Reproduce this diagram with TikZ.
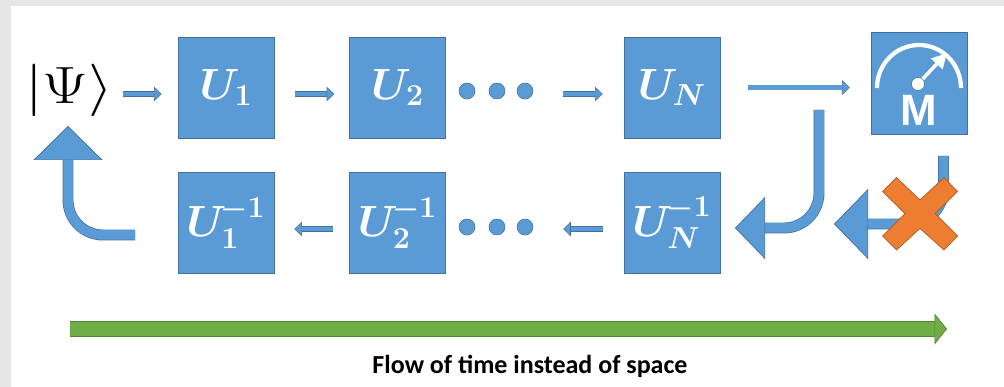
\documentclass[tikz,border=0pt]{standalone}
\usepackage{amsmath}
\usepackage{amssymb}
\usepackage{fontspec}
\newfontfamily\labelfont{Carlito}
\newfontfamily\meterfont{Liberation Sans}
\usepackage{tikz}
\usetikzlibrary{arrows.meta}
\definecolor{boxblue}{HTML}{5B9BD5}
\definecolor{edgeblue}{HTML}{41719C}
\definecolor{flowgreen}{HTML}{70AD47}
\definecolor{edgegreen}{HTML}{548235}
\definecolor{crossorange}{HTML}{ED7D31}
\definecolor{edgeorange}{HTML}{AE5A21}
\definecolor{pagegrey}{HTML}{E6E6E6}

\begin{document}
\begin{tikzpicture}[
  gate/.style={draw=edgeblue, line width=0.4pt, fill=boxblue, text=white, minimum width=1.92cm, minimum height=2.02cm, inner sep=0pt, font=\fontsize{27}{30}\selectfont},
  invgate/.style={gate, font=\fontsize{26}{30}\selectfont},
  meterbox/.style={gate, minimum height=2.04cm},
  dotmark/.style={circle, draw=edgeblue, line width=0.3pt, fill=boxblue, minimum size=0.32cm, inner sep=0pt},
  flow/.style={draw=edgeblue, double=boxblue, line width=0.3pt, double distance=0.09cm, -{Triangle[length=0.15cm, width=0.29cm, line width=0.3pt, fill=boxblue, color=edgeblue]}},
  bigflow/.style 2 args={draw=edgeblue, double=boxblue, line width=0.4pt, double distance=0.19cm, -{Triangle[length=#1, width=#2, line width=0.4pt, fill=boxblue, color=edgeblue]}},
  timeflow/.style={draw=edgegreen, double=flowgreen, line width=0.4pt, double distance=0.28cm, -{Triangle[length=0.25cm, width=0.62cm, line width=0.4pt, fill=flowgreen, color=edgegreen]}},
  needle/.style={draw=white, line width=2pt, -{Triangle[length=0.3cm, width=0.3cm]}},
  dial/.style={draw=white, line width=2.4pt}
]

  \fill[pagegrey] (0,0) rectangle (20.08,-7.74);
  \fill[white] (0.22,-0.12) rectangle (20.08,-7.74);

  \node[inner sep=0pt, font=\fontsize{24.88}{30}\selectfont] (ket) at (1.38,-1.8) {\scalebox{1.45}[1.2]{$|\Psi\rangle$}};

  \node[gate] (uone)   at (4.52,-1.75)  {$\boldsymbol{U_1}$};
  \node[gate] (utwo)   at (7.95,-1.75)  {$\boldsymbol{U_2}$};
  \node[gate] (unn)    at (13.44,-1.75) {$\boldsymbol{U_N}$};
  \node[meterbox] (meter) at (18.38,-1.66) {};

  \node[invgate] (uoneinv) at (4.52,-4.46)  {$\boldsymbol{U_1^{\!-1}}$};
  \node[invgate] (utwoinv) at (7.95,-4.46)  {$\boldsymbol{U_2^{\!-1}}$};
  \node[invgate] (unninv)  at (13.44,-4.46) {$\boldsymbol{U_N^{\!-1}}$};

  \node[dotmark] (dota) at (9.34,-1.82) {};
  \node[dotmark] (dotb) at (9.94,-1.82) {};
  \node[dotmark] (dotc) at (10.5,-1.82) {};
  \node[dotmark] (dotd) at (9.34,-4.54) {};
  \node[dotmark] (dote) at (9.94,-4.54) {};
  \node[dotmark] (dotf) at (10.5,-4.54) {};

  \draw[dial] (17.54,-1.76) arc[start angle=180, end angle=0, x radius=0.84cm, y radius=0.86cm];
  \coordinate (needlefoot) at (18.36,-1.68);
  \coordinate (needletip) at (18.94,-1.06);
  \draw[needle] (needlefoot) -- (needletip);
  \node[circle, draw=edgeblue, line width=0.3pt, fill=white, minimum size=0.26cm, inner sep=0pt] (hub) at (needlefoot) {};
  \node[text=white, font=\meterfont\bfseries\fontsize{25}{27}\selectfont, inner sep=0pt] (mlabel) at (18.38,-2.2) {M};

  \draw[flow, shorten <=0.2cm, shorten >=0.32cm] (ket.east |- 0,-1.88) -- ([yshift=-0.13cm]uone.west);
  \draw[flow, shorten <=0.42cm, shorten >=0.3cm] ([yshift=-0.13cm]uone.east) -- ([yshift=-0.13cm]utwo.west);
  \draw[flow, shorten <=0.6cm, shorten >=0.42cm] (dotc.east |- 0,-1.88) -- ([yshift=-0.13cm]unn.west);
  \draw[flow, shorten <=0.56cm, shorten >=0.42cm] (unn.east) -- (unn.east -| meter.west);

  \draw[flow, shorten <=0.42cm, shorten >=0.6cm] ([yshift=-0.12cm]unninv.west) -- ([yshift=-0.12cm]unninv.west -| dotf.east);
  \draw[flow, shorten <=0.32cm, shorten >=0.4cm] ([yshift=-0.12cm]utwoinv.west) -- ([yshift=-0.12cm]uoneinv.east);

  \coordinate (backstart) at (16.38,-2.2);
  \coordinate (backtip) at (14.7,-4.56);
  \draw[bigflow={0.6cm}{1.24cm}, rounded corners=0.7cm] (backstart) |- (backtip);

  \coordinate (cutstart) at (18.87,-3.12);
  \coordinate (cuttip) at (16.68,-4.48);
  \draw[bigflow={0.68cm}{1.4cm}, rounded corners=0.7cm] (cutstart) |- (cuttip);

  \coordinate (loopstart) at (2.7,-4.7);
  \coordinate (looptip) at (1.36,-2.52);
  \draw[bigflow={0.68cm}{1.38cm}, rounded corners=0.7cm] (loopstart) -| (looptip);

  \draw[draw=edgeorange, line width=0.4pt, fill=crossorange]
    (17.93,-3.55) -- (18.4,-4.0) -- (18.88,-3.55) -- (19.15,-3.83) -- (18.7,-4.27)
    -- (19.15,-4.72) -- (18.88,-5.0) -- (18.4,-4.57) -- (17.93,-5.0) -- (17.65,-4.72)
    -- (18.1,-4.27) -- (17.65,-3.83) -- cycle;

  \coordinate (timestart) at (1.4,-6.58);
  \coordinate (timetip) at (18.94,-6.58);
  \draw[timeflow] (timestart) -- (timetip);
  \node[font=\labelfont\bfseries\fontsize{14.8}{16}\selectfont, inner sep=0pt] (timelabel) at (10.6,-7.32) {Flow of time instead of space};
\end{tikzpicture}
\end{document}
